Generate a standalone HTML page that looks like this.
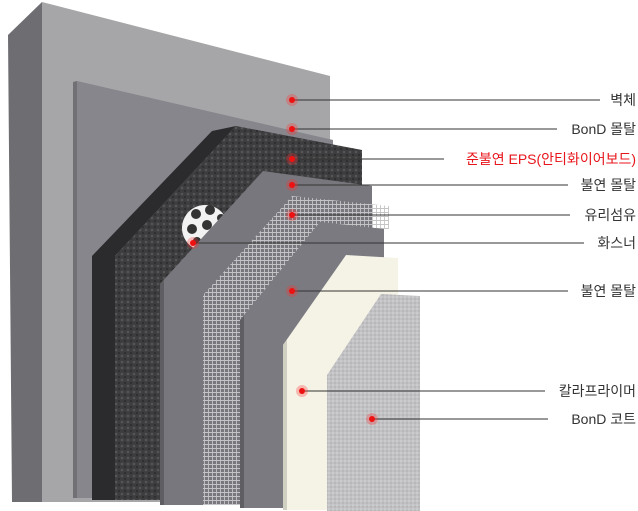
<!DOCTYPE html>
<html><head><meta charset="utf-8"><style>
html,body{margin:0;padding:0;background:#fff;}
svg{display:block;}
text{font-family:"Liberation Sans","Noto Sans CJK KR",sans-serif;font-size:14px;fill:#333;}
</style></head><body>
<svg width="638" height="511" viewBox="0 0 638 511" xmlns="http://www.w3.org/2000/svg">
<defs>
<pattern id="mesh" width="4" height="4" patternUnits="userSpaceOnUse">
<path d="M0 0.5H4M0.5 0V4" stroke="#c4c4c6" stroke-width="0.9"/>
</pattern>
<pattern id="eps" width="6" height="6" patternUnits="userSpaceOnUse">
<rect width="6" height="6" fill="#3d3d3f"/>
<circle cx="2" cy="2" r="1.3" fill="#555"/><circle cx="5" cy="5" r="1" fill="#2a2a2a"/>
</pattern>
<pattern id="coat" width="4" height="4" patternUnits="userSpaceOnUse">
<rect width="4" height="4" fill="#c2c2c4"/>
<circle cx="1" cy="1" r="0.8" fill="#d6d6d8"/><circle cx="3" cy="3" r="0.7" fill="#a8a8aa"/>
</pattern>
</defs>
<polygon points="8,35 42,2 42,502 12,502" fill="#6e6e72"/>
<polygon points="42,2 330,76 330,502 42,502" fill="#a6a6a8"/>
<polygon points="77,81 333,140 333,498 77,498" fill="#87868d"/>
<polygon points="73,82 77,81 77,498 73,498" fill="#707075"/>
<polygon points="92,256 212,131 236,126 115,256 115,500 92,500" fill="#2b2b2d"/>
<polygon points="115,256 236,126 362,150 362,500 115,500" fill="url(#eps)"/>
<circle cx="205" cy="228" r="23" fill="#f2f2f2"/>
<circle cx="196" cy="214" r="5" fill="#333"/><circle cx="210" cy="210" r="5" fill="#333"/>
<circle cx="192" cy="229" r="5" fill="#333"/><circle cx="207" cy="225" r="5" fill="#333"/>
<circle cx="197" cy="241" r="4" fill="#333"/><circle cx="221" cy="218" r="4" fill="#333"/>
<polygon points="160,284 263,171 372,186 372,505 160,505" fill="#78777d"/>
<polygon points="160,284 164,280 164,505 160,505" fill="#5e5e63"/>
<polygon points="203,295 292,196 389,206 389,229 384,229 384,505 203,505" fill="url(#mesh)"/>
<polygon points="240,320 320,222 384,229 384,508 240,508" fill="#7b7a80"/>
<polygon points="240,320 244,316 244,508 240,508" fill="#5e5e63"/>
<polygon points="283,345 346,255 398,258 398,510 283,510" fill="#f4f3e6"/>
<polygon points="283,345 287,340 287,510 283,510" fill="#cfcfc2"/>
<polygon points="327,375 381,294 420,296 420,511 327,511" fill="url(#coat)"/>
<g stroke="#333" stroke-width="1">
<line x1="292" y1="100" x2="600" y2="100"/>
<line x1="292" y1="129" x2="557" y2="129"/>
<line x1="292" y1="159" x2="444" y2="159"/>
<line x1="292" y1="185" x2="568" y2="185"/>
<line x1="292" y1="215" x2="570" y2="215"/>
<line x1="193" y1="243" x2="584" y2="243"/>
<line x1="292" y1="291" x2="568" y2="291"/>
<line x1="302" y1="391" x2="545" y2="391"/>
<line x1="372" y1="419" x2="548" y2="419"/>
</g>
<g>
<circle cx="292" cy="100" r="6" fill="#f33" opacity="0.3"/><circle cx="292" cy="100" r="3" fill="#e11"/>
<circle cx="292" cy="129" r="6" fill="#f33" opacity="0.3"/><circle cx="292" cy="129" r="3" fill="#e11"/>
<circle cx="292" cy="159" r="6" fill="#f33" opacity="0.3"/><circle cx="292" cy="159" r="3" fill="#e11"/>
<circle cx="292" cy="185" r="6" fill="#f33" opacity="0.3"/><circle cx="292" cy="185" r="3" fill="#e11"/>
<circle cx="292" cy="215" r="6" fill="#f33" opacity="0.3"/><circle cx="292" cy="215" r="3" fill="#e11"/>
<circle cx="193" cy="243" r="6" fill="#f33" opacity="0.3"/><circle cx="193" cy="243" r="3" fill="#e11"/>
<circle cx="292" cy="291" r="6" fill="#f33" opacity="0.3"/><circle cx="292" cy="291" r="3" fill="#e11"/>
<circle cx="302" cy="391" r="6" fill="#f33" opacity="0.3"/><circle cx="302" cy="391" r="3" fill="#e11"/>
<circle cx="372" cy="419" r="6" fill="#f33" opacity="0.3"/><circle cx="372" cy="419" r="3" fill="#e11"/>
</g>
<g text-anchor="end">
<text x="636" y="105">벽체</text>
<text x="636" y="134">BonD 몰탈</text>
<text x="636" y="164" style="fill:#e8141b">준불연 EPS(안티화이어보드)</text>
<text x="636" y="190">불연 몰탈</text>
<text x="636" y="220">유리섬유</text>
<text x="636" y="248">화스너</text>
<text x="636" y="296">불연 몰탈</text>
<text x="636" y="396">칼라프라이머</text>
<text x="636" y="424">BonD 코트</text>
</g>
</svg>
</body></html>
